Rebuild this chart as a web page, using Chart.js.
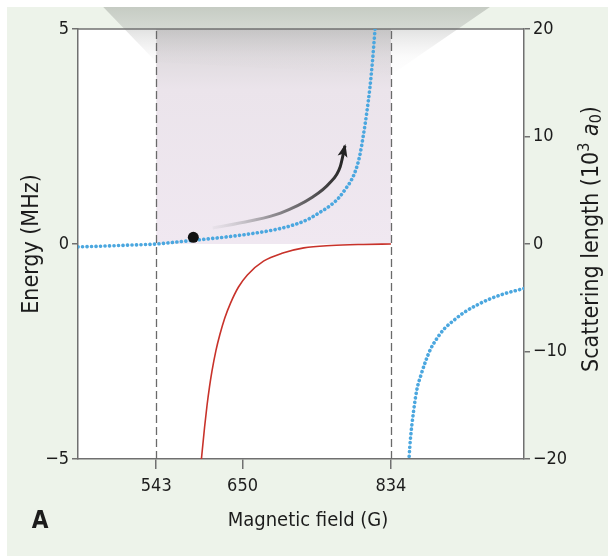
<!DOCTYPE html>
<html lang="en">
<head>
<meta charset="UTF-8">
<title>Feshbach resonance</title>
<script src="https://cdn.jsdelivr.net/npm/chart.js"></script>
<style>
  html, body { margin: 0; padding: 0; background: #fff; }
  canvas { display: block; }
</style>
</head>
<body>
<canvas id="chart" width="608" height="556"></canvas>
<script>
// axis ticks
const fieldTicks = [543, 650, 834];
const energyTicks = [-5, 0, 5];
const lengthTicks = [-20, -10, 0, 10, 20];

// resonance window (G), shaded for energies above zero
const windowFrom = 543;
const windowTo = 834;

// scattering length (10^3 a0) below the resonance
const fieldBelow = [446, 480, 510, 543, 570, 600, 630, 660, 690, 710, 730, 745, 760, 770, 778, 785, 790, 795, 800, 804, 808, 811, 814, 815.5];
const lengthBelow = [-0.27, -0.19, -0.10, 0, 0.20, 0.42, 0.66, 0.95, 1.33, 1.70, 2.25, 2.90, 3.65, 4.35, 5.15, 5.95, 6.80, 8.10, 10.2, 12.2, 14.6, 16.9, 19.7, 21.2];

// scattering length (10^3 a0) above the resonance
const fieldAbove = [855.5, 858, 862, 866, 871, 877, 883, 890, 900, 912, 924, 940, 957, 975, 1000];
const lengthAbove = [-21.0, -18.3, -15.6, -13.6, -12.25, -10.9, -9.8, -8.9, -7.9, -7.1, -6.4, -5.7, -5.1, -4.62, -4.12];

// molecular bound state energy (MHz)
const fieldMolecule = [598.5, 603, 606, 609, 612, 617, 622, 628, 635, 645, 656, 676, 700, 726, 760, 800, 834];
const energyMolecule = [-5.1, -4.25, -3.75, -3.33, -2.97, -2.48, -2.10, -1.72, -1.38, -1.00, -0.72, -0.40, -0.21, -0.09, -0.035, -0.01, 0];

// starting point and sweep arrow (on the scattering length axis)
const dotField = [589];
const dotLength = [0.62];
const arrowField = [613, 659, 697, 737, 758, 771, 777];
const arrowLength = [1.49, 2.14, 2.88, 4.37, 5.67, 7.16, 9.12];

const FONT = "'DejaVu Sans Condensed', 'DejaVu Sans', sans-serif";
const INK = '#1c1c1c';
const AXIS = '#707070';
const BLUE = '#4ba7df';
const RED = '#c8322a';

const pts = (xs, ys) => xs.map((v, i) => ({ x: v, y: ys[i] }));

// page background, white plot box, shaded window and the light cone on top
const backdrop = {
  id: 'backdrop',
  beforeDraw(chart) {
    const { ctx, chartArea: a, scales: { x, y } } = chart;
    ctx.save();
    ctx.fillStyle = '#fff';
    ctx.fillRect(0, 0, chart.width, chart.height);
    ctx.fillStyle = '#edf3ea';
    ctx.fillRect(7, 7, chart.width - 7, chart.height - 7);
    ctx.fillStyle = '#fff';
    ctx.fillRect(a.left, a.top, a.right - a.left, a.bottom - a.top);

    const x0 = x.getPixelForValue(windowFrom);
    const x1 = x.getPixelForValue(windowTo);
    const yTop = y.getPixelForValue(5);
    const yZero = y.getPixelForValue(0);
    const g = ctx.createLinearGradient(0, yTop, 0, yZero);
    g.addColorStop(0, '#d6d4d5');
    g.addColorStop(0.28, '#ebe4eb');
    g.addColorStop(1, '#f0e8f1');
    ctx.fillStyle = g;
    ctx.fillRect(x0, yTop, x1 - x0, yZero - yTop);

    const cone = ctx.createLinearGradient(0, 7, 0, a.top + 50);
    cone.addColorStop(0, 'rgba(150,156,148,0.45)');
    cone.addColorStop(0.3, 'rgba(160,162,160,0.32)');
    cone.addColorStop(0.7, 'rgba(190,188,190,0.06)');
    cone.addColorStop(1, 'rgba(200,196,200,0)');
    ctx.fillStyle = cone;
    ctx.beginPath();
    ctx.moveTo(x0 - 53, 7);
    ctx.lineTo(x1 + 99, 7);
    ctx.lineTo(x1, a.top + 46);
    ctx.lineTo(x0, a.top + 33);
    ctx.closePath();
    ctx.fill();
    ctx.restore();
  },
  beforeDatasetsDraw(chart) {
    const { ctx, chartArea: a, scales: { x } } = chart;
    ctx.save();
    ctx.strokeStyle = '#6a6a6a';
    ctx.lineWidth = 1.3;
    ctx.setLineDash([8, 4]);
    [windowFrom, windowTo].forEach(v => {
      const px = Math.round(x.getPixelForValue(v)) + 0.5;
      ctx.beginPath();
      ctx.moveTo(px, a.bottom);
      ctx.lineTo(px, a.top);
      ctx.stroke();
    });
    ctx.setLineDash([]);
    ctx.strokeStyle = AXIS;
    ctx.lineWidth = 1.5;
    ctx.beginPath();
    ctx.moveTo(a.left, a.top);
    ctx.lineTo(a.right, a.top);
    ctx.stroke();
    ctx.restore();
  }
};

// arrow head, axis titles and panel letter
const overlay = {
  id: 'overlay',
  afterDatasetsDraw(chart) {
    const { ctx, scales: { x, y2 } } = chart;
    const n = arrowField.length;
    const tx = x.getPixelForValue(arrowField[n - 1]);
    const ty = y2.getPixelForValue(arrowLength[n - 1]);
    const bx = x.getPixelForValue(arrowField[n - 2]);
    const by = y2.getPixelForValue(arrowLength[n - 2]);
    const ang = Math.atan2(ty - by, tx - bx);
    ctx.save();
    ctx.translate(tx, ty);
    ctx.rotate(ang);
    ctx.fillStyle = '#222';
    ctx.beginPath();
    ctx.moveTo(2, 0);
    ctx.lineTo(-11, -5);
    ctx.lineTo(-8, 0);
    ctx.lineTo(-11, 5);
    ctx.closePath();
    ctx.fill();
    ctx.restore();
  },
  afterDraw(chart) {
    const { ctx, chartArea: a } = chart;
    ctx.save();
    ctx.fillStyle = INK;
    ctx.textBaseline = 'middle';

    ctx.font = `20px ${FONT}`;
    ctx.textAlign = 'center';
    ctx.fillText('Magnetic field (G)', (a.left + a.right) / 2 + 7, 521);

    // Scattering length (10^3 a0), reading upwards
    ctx.textAlign = 'left';
    const size = 23;
    const small = Math.round(size * 0.68);
    const parts = [
      { t: 'Scattering length (10', f: `${size}px ${FONT}`, dy: 0 },
      { t: '3', f: `${small}px ${FONT}`, dy: -7 },
      { t: ' ', f: `${size}px ${FONT}`, dy: 0 },
      { t: 'a', f: `italic ${size}px ${FONT}`, dy: 0 },
      { t: '0', f: `${small}px ${FONT}`, dy: 5 },
      { t: ')', f: `${size}px ${FONT}`, dy: 0 }
    ];
    let w = 0;
    parts.forEach(p => { ctx.font = p.f; p.w = ctx.measureText(p.t).width; w += p.w; });
    ctx.translate(592, (a.top + a.bottom) / 2 - 5);
    ctx.rotate(-Math.PI / 2);
    let cx = -w / 2;
    parts.forEach(p => { ctx.font = p.f; ctx.fillText(p.t, cx, p.dy); cx += p.w; });
    ctx.setTransform(1, 0, 0, 1, 0, 0);

    ctx.font = `bold 24px ${FONT}`;
    ctx.textAlign = 'center';
    ctx.fillText('A', 40, 522);
    ctx.restore();
  }
};

const tickFont = { family: FONT, size: 18 };
const minusTick = v => v < 0 ? '\u2212' + Math.abs(v) : v;

new Chart(document.getElementById('chart'), {
  type: 'line',
  data: {
    datasets: [
      {
        label: 'start',
        data: pts(dotField, dotLength),
        yAxisID: 'y2',
        showLine: false,
        pointRadius: 5.5,
        pointBackgroundColor: '#111',
        pointBorderWidth: 0,
        order: 0
      },
      {
        label: 'sweep',
        data: pts(arrowField, arrowLength),
        yAxisID: 'y2',
        borderWidth: 3,
        pointRadius: 0,
        cubicInterpolationMode: 'monotone',
        borderColor: c => {
          const { chart } = c;
          if (!chart.chartArea) return '#333';
          const sx = chart.scales.x;
          const g = chart.ctx.createLinearGradient(
            sx.getPixelForValue(arrowField[0]), 0,
            sx.getPixelForValue(arrowField[arrowField.length - 1]), 0);
          g.addColorStop(0, 'rgba(190,190,195,0.15)');
          g.addColorStop(0.45, 'rgba(120,118,122,0.8)');
          g.addColorStop(1, '#222');
          return g;
        },
        order: 1
      },
      {
        label: 'a below',
        data: pts(fieldBelow, lengthBelow),
        yAxisID: 'y2',
        borderColor: BLUE,
        borderWidth: 3.6,
        borderDash: [0.1, 4.4],
        borderCapStyle: 'round',
        pointRadius: 0,
        cubicInterpolationMode: 'monotone',
        order: 2
      },
      {
        label: 'a above',
        data: pts(fieldAbove, lengthAbove),
        yAxisID: 'y2',
        borderColor: BLUE,
        borderWidth: 3.6,
        borderDash: [0.1, 4.4],
        borderCapStyle: 'round',
        pointRadius: 0,
        cubicInterpolationMode: 'monotone',
        order: 2
      },
      {
        label: 'molecule',
        data: pts(fieldMolecule, energyMolecule),
        yAxisID: 'y',
        borderColor: RED,
        borderWidth: 1.6,
        pointRadius: 0,
        cubicInterpolationMode: 'monotone',
        order: 3
      }
    ]
  },
  options: {
    responsive: false,
    animation: false,
    events: [],
    layout: { padding: { top: 29, left: 0, right: 0, bottom: 0 } },
    plugins: { legend: { display: false }, tooltip: { enabled: false } },
    scales: {
      x: {
        type: 'linear',
        min: 446,
        max: 999,
        afterBuildTicks: s => { s.ticks = fieldTicks.map(v => ({ value: v })); },
        afterFit: s => { s.height = 97; },
        grid: { drawOnChartArea: false, tickLength: 10, color: AXIS, lineWidth: 1.5 },
        border: { color: AXIS, width: 1.5 },
        ticks: { font: tickFont, color: INK, padding: 7, autoSkip: false, maxRotation: 0 }
      },
      y: {
        position: 'left',
        min: -5,
        max: 5,
        afterBuildTicks: s => { s.ticks = energyTicks.map(v => ({ value: v })); },
        afterFit: s => { s.width = 78; },
        grid: { drawOnChartArea: false, tickLength: 6, color: AXIS, lineWidth: 1.5 },
        border: { color: AXIS, width: 1.5 },
        ticks: { font: tickFont, color: INK, padding: 3, callback: minusTick },
        title: { display: true, text: 'Energy (MHz)', font: { family: FONT, size: 23 }, color: INK, padding: { top: 18, bottom: 0 } }
      },
      y2: {
        position: 'right',
        min: -20,
        max: 20,
        afterBuildTicks: s => { s.ticks = lengthTicks.map(v => ({ value: v })); },
        afterFit: s => { s.width = 84; },
        grid: { drawOnChartArea: false, tickLength: 6, color: AXIS, lineWidth: 1.5 },
        border: { color: AXIS, width: 1.5 },
        ticks: { font: tickFont, color: INK, padding: 3, callback: minusTick }
      }
    }
  },
  plugins: [backdrop, overlay]
});
</script>
</body>
</html>
